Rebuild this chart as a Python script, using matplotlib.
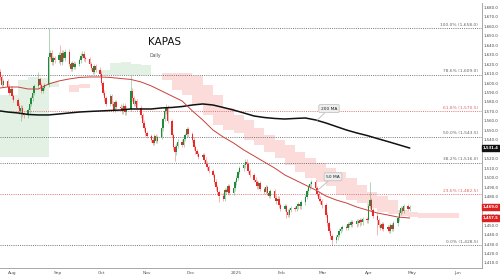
import matplotlib
matplotlib.use("Agg")
import matplotlib.pyplot as plt
import matplotlib.dates as mdates
from matplotlib.ticker import FuncFormatter
import numpy as np
import pandas as pd

# ---- daily closes, one line per week (Jul 24 2024 -> Apr 29 2025) ----
WEEKS = [
    [1606, 1598, 1602],
    [1596, 1590, 1594, 1586, 1582],
    [1576, 1570, 1574, 1567, 1566],
    [1571, 1578, 1584, 1590, 1597],
    [1604, 1598, 1592, 1595, 1598],
    [1628, 1632, 1622, 1626, 1624],
    [1630, 1622, 1632, 1626, 1633],
    [1620, 1615, 1621, 1617, 1620],
    [1624, 1629, 1631, 1626, 1625],
    [1620, 1616, 1612, 1618, 1614],
    [1610, 1600, 1590, 1584, 1578],
    [1586, 1578, 1572, 1580, 1575],
    [1574, 1570, 1576, 1569, 1573],
    [1592, 1584, 1578, 1581, 1574],
    [1566, 1558, 1552, 1547, 1544],
    [1540, 1537, 1544, 1539, 1543],
    [1552, 1562, 1570, 1574, 1560],
    [1545, 1532, 1527, 1534, 1538],
    [1535, 1541, 1545, 1551, 1546],
    [1540, 1532, 1528, 1525, 1522],
    [1524, 1519, 1515, 1511, 1507],
    [1503, 1496, 1490, 1485, 1481],
    [1478, 1487, 1485, 1491, 1484],
    [1489, 1495, 1500, 1506, 1510],
    [1513, 1517, 1514, 1507, 1503],
    [1498, 1495, 1491, 1494, 1488],
    [1485, 1490, 1484, 1481, 1486],
    [1479, 1475, 1478, 1471, 1467],
    [1470, 1464, 1461, 1466, 1468],
    [1467, 1470, 1472, 1470, 1474],
    [1480, 1486, 1490, 1493, 1495],
    [1489, 1483, 1478, 1475, 1471],
    [1461, 1452, 1444, 1438, 1434],
    [1437, 1440, 1444, 1446, 1448],
    [1447, 1451, 1450, 1453, 1451],
    [1454, 1452, 1455, 1453, 1456],
    [1455, 1470, 1476, 1466, 1460],
    [1455, 1450, 1447, 1451, 1446],
    [1448, 1444, 1450, 1446, 1452],
    [1457, 1463, 1468, 1465, 1470],
    [1467, 1469],
]
FIRST_OPEN = 1612.0
WICK = 2.5
HIGH_SPIKES = {"2024-08-19": 1612.0, "2024-08-26": 1658.0, "2024-09-03": 1640.0,
               "2024-10-21": 1608.0, "2024-11-14": 1578.0, "2025-02-21": 1498.0,
               "2025-04-02": 1495.0}
LOW_SPIKES = {"2024-08-07": 1560.0, "2024-11-20": 1518.0, "2024-12-20": 1474.5,
              "2025-02-04": 1458.0, "2025-03-07": 1428.5, "2025-04-07": 1440.0}

# ---- moving averages, weekly readings ----
MA50 = [1594.8, 1595.8, 1595.8, 1593.7, 1593.7, 1599.0, 1602.2, 1604.3, 1605.9, 1606.4,
        1606.4, 1605.9, 1604.8, 1603.8, 1601.1, 1596.9, 1591.6, 1586.3, 1581.0, 1570.5,
        1561.0, 1550.4, 1543.0, 1536.7, 1529.3, 1523.0, 1516.6, 1510.3, 1502.9, 1497.6,
        1492.3, 1487.0, 1480.7, 1476.5, 1473.3, 1469.1, 1465.9, 1462.8, 1460.7, 1458.5,
        1457.5]
MA200 = [1570.5, 1569.4, 1568.4, 1566.8, 1566.3, 1566.3, 1567.3, 1568.4, 1569.4, 1570.0,
         1570.5, 1571.0, 1571.5, 1572.6, 1572.6, 1572.6, 1573.7, 1574.2, 1575.2, 1576.8,
         1577.9, 1576.8, 1574.2, 1571.5, 1568.4, 1565.2, 1563.6, 1562.6, 1562.0, 1562.6,
         1563.1, 1561.0, 1557.8, 1554.1, 1550.4, 1547.3, 1544.6, 1541.4, 1538.3, 1535.1,
         1531.4]

# ---- ichimoku cloud spans, weekly (Jul 22 2024 -> Jun 2 2025) ----
SPAN_A = [1587.4, 1587.4, 1603.2, 1606.4, 1605.3, 1601.1, 1599.0, 1590.5, 1594.8, 1603.2,
          1613.8, 1621.2, 1622.2, 1620.1, 1619.1, 1615.9, 1603.2, 1592.7, 1587.4, 1576.8,
          1566.3, 1555.7, 1550.4, 1547.3, 1539.9, 1534.6, 1527.2, 1520.9, 1513.5, 1506.1,
          1499.7, 1495.5, 1491.3, 1481.8, 1476.5, 1473.3, 1468.0, 1463.8, 1461.7, 1459.6,
          1458.5, 1457.5, 1457.5, 1457.5, 1457.5, 1457.5]
SPAN_B = [1521.9, 1521.9, 1521.9, 1521.9, 1521.9, 1595.8, 1595.8, 1597.9, 1599.0, 1605.3,
          1608.5, 1608.5, 1608.5, 1608.5, 1608.5, 1608.5, 1610.6, 1610.6, 1610.6, 1607.4,
          1597.9, 1587.4, 1573.7, 1566.3, 1561.0, 1552.5, 1545.1, 1539.9, 1534.6, 1527.2,
          1520.9, 1515.6, 1510.3, 1506.1, 1499.7, 1492.3, 1485.0, 1480.7, 1476.5, 1465.9,
          1463.8, 1462.8, 1462.8, 1462.8, 1462.8, 1462.8]

# ---- fibonacci retracement levels ----
FIB_PCT = ["100.0%", "78.6%", "61.8%", "50.0%", "38.2%", "23.6%", "0.0%"]
FIB_VAL = [1658.0, 1609.0, 1570.5, 1543.5, 1516.0, 1482.5, 1428.5]
FIB_RED = [False, False, True, False, False, True, False]

MONTHS = ["Aug", "Sep", "Oct", "Nov", "Dec", "2025", "Feb", "Mar", "Apr", "May", "Jun"]

GREEN = "#1f8b3b"
RED = "#e8292c"

closes = np.array(sum(WEEKS, []), dtype=float)
dates = pd.bdate_range("2024-07-24", "2025-04-29")[:len(closes)]
opens = np.r_[FIRST_OPEN, closes[:-1]]
highs = np.maximum(opens, closes) + WICK
lows = np.minimum(opens, closes) - WICK
keys = [d.strftime("%Y-%m-%d") for d in dates]
for i, k in enumerate(keys):
    if k in HIGH_SPIKES:
        highs[i] = HIGH_SPIKES[k]
    if k in LOW_SPIKES:
        lows[i] = LOW_SPIKES[k]

ma_dates = mdates.date2num([pd.Timestamp("2024-07-24")]
                           + list(pd.date_range("2024-07-29", "2025-04-21", freq="W-MON"))
                           + [pd.Timestamp("2025-04-29")])
cloud_dates = mdates.date2num(pd.date_range("2024-07-22", "2025-06-02", freq="W-MON"))
x = mdates.date2num(dates)

fig = plt.figure(figsize=(5, 2.8), dpi=100)
ax = fig.add_axes([0.0, 12 / 280, 482 / 500, 265 / 280])

aug1 = mdates.date2num(pd.Timestamp("2024-08-01"))
px_per_day = 1.467
def px_x(px):
    return aug1 + (px - 12) / px_per_day

ax.set_xlim(px_x(0), px_x(482))
ax.set_ylim(1404.7, 1684.5)

# cloud
sa, sb = np.array(SPAN_A), np.array(SPAN_B)
ax.fill_between(cloud_dates, sa, sb, where=sa >= sb, step="post", color="#e3f1e5",
                lw=0, zorder=1)
ax.fill_between(cloud_dates, sa, sb, where=sa <= sb, step="post", color="#fcdcdb",
                lw=0, zorder=1)

# fib levels
for pct, val, red in zip(FIB_PCT, FIB_VAL, FIB_RED):
    col = "#e06666" if red else "#666666"
    ax.axhline(val, color=col, lw=0.6, ls=(0, (1.2, 1.4)), zorder=2)
    ax.text(0.992, val + 1.5, f"{pct} ({val:,.1f})", transform=ax.get_yaxis_transform(),
            ha="right", va="bottom", fontsize=3.2, color=col, zorder=3)

# candles
up = closes >= opens
cols = np.where(up, GREEN, RED)
ax.vlines(x, lows, highs, colors=cols, lw=0.45, alpha=0.55, zorder=4)
body = np.maximum(np.abs(closes - opens), 0.8)
ax.bar(x, body, bottom=np.minimum(opens, closes), width=0.95, color=cols, lw=0, zorder=5)

# moving averages
ax.plot(ma_dates, MA200, color="#111111", lw=1.1, zorder=6)
ax.plot(ma_dates, MA50, color="#c9403a", lw=0.7, zorder=6)

# callouts
bbox = dict(boxstyle="round,pad=0.45,rounding_size=0.3", fc="#eeeeee", ec="#bbbbbb", lw=0.5)
xa = px_x(317)
ax.annotate("200 MA", xy=(xa, np.interp(xa, ma_dates, MA200)), xytext=(px_x(329), 1573),
            fontsize=3.2, ha="center", va="center", color="#222", bbox=bbox, zorder=8,
            arrowprops=dict(arrowstyle="-", color="#bbbbbb", lw=0.6, shrinkA=0, shrinkB=0))
ax.annotate("50 MA", xy=(xa, np.interp(xa, ma_dates, MA50)), xytext=(px_x(333), 1501),
            fontsize=3.2, ha="center", va="center", color="#222", bbox=bbox, zorder=8,
            arrowprops=dict(arrowstyle="-", color="#bbbbbb", lw=0.6, shrinkA=0, shrinkB=0))

# title
ax.text(px_x(148), 1643, "KAPAS", fontsize=7.5, color="#111", ha="left", va="center")
ax.text(px_x(149), 1629, "Daily", fontsize=3.3, color="#555", ha="left", va="center")

# axes styling
for s in ["top", "left"]:
    ax.spines[s].set_visible(False)
ax.spines["right"].set_color("#9a9a9a")
ax.spines["bottom"].set_color("#9a9a9a")
ax.spines["right"].set_linewidth(0.6)
ax.spines["bottom"].set_linewidth(0.6)
ax.yaxis.tick_right()
ax.set_yticks(np.arange(1410, 1681, 10))
ax.yaxis.set_major_formatter(FuncFormatter(lambda v, p: f"{v:,.1f}"))
ax.tick_params(axis="y", length=0, pad=1.2, labelsize=2.8, labelcolor="#444")
month_ticks = mdates.date2num(pd.date_range("2024-08-01", "2025-06-01", freq="MS"))
ax.set_xticks(month_ticks)
ax.set_xticklabels(MONTHS)
ax.tick_params(axis="x", length=0, pad=2.5, labelsize=3.2, labelcolor="#555")

# price tags on the right axis (they cover the tick labels beneath them)
tags = [(MA200[-1], "#111111"), (closes[-1], "#e02020"), (MA50[-1], "#e02020")]
for val, col in tags:
    ax.annotate(f"{val:,.1f}", xy=(1.0, val), xycoords=ax.get_yaxis_transform(),
                xytext=(0.8, 0), textcoords="offset points", ha="left", va="center",
                fontsize=2.7, color="white", fontweight="bold", annotation_clip=False,
                bbox=dict(boxstyle="square,pad=0.3", fc=col, ec=col), zorder=10)

fig.savefig("out.png", dpi=100)
